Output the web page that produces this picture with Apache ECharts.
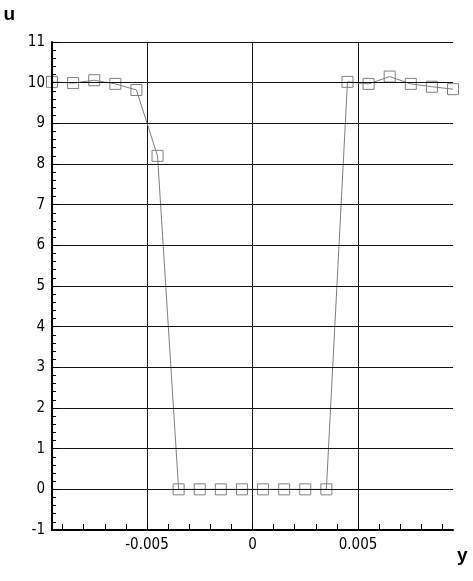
<!DOCTYPE html>
<html>
<head>
<meta charset="utf-8">
<script src="https://cdn.jsdelivr.net/npm/echarts@6/dist/echarts.min.js"></script>
<style>html,body{margin:0;padding:0;background:#fff;}#c{width:473px;height:581px;}</style>
</head>
<body>
<div id="c"></div>
<script>
var yPos = [-0.0095, -0.0085, -0.0075, -0.0065, -0.0055, -0.0045, -0.0035, -0.0025, -0.0015, -0.0005,
            0.0005, 0.0015, 0.0025, 0.0035, 0.0045, 0.0055, 0.0065, 0.0075, 0.0085, 0.0095];
var uVals = [10.02, 9.99, 10.06, 9.97, 9.82, 8.2, 0, 0, 0, 0,
             0, 0, 0, 0, 10.02, 9.97, 10.15, 9.97, 9.9, 9.84];
var xLabelValues = [-0.005, 0, 0.005];
var xMinorTicks = [-0.009, -0.008, -0.007, -0.006, -0.005, -0.004, -0.003, -0.002, -0.001, 0,
                   0.001, 0.002, 0.003, 0.004, 0.005, 0.006, 0.007, 0.008, 0.009];
var xGridValues = [-0.005, 0, 0.005];

var font = "'DejaVu Sans Condensed', 'Liberation Sans Narrow', 'Liberation Sans', Arial, sans-serif";
var chart = echarts.init(document.getElementById('c'));
var data = yPos.map(function (v, i) { return [v, uVals[i]]; });
chart.setOption({
  animation: false,
  backgroundColor: '#fff',
  grid: { left: 52, right: 20, top: 42, bottom: 51, containLabel: false },
  xAxis: [{
    type: 'value', min: -0.0095, max: 0.0095,
    name: 'y', nameLocation: 'end', nameGap: 4,
    nameTextStyle: { fontFamily: 'Liberation Sans, Arial', fontWeight: 'bold', fontSize: 19, color: '#000',
      align: 'left', verticalAlign: 'top', padding: [16, 0, 0, 0] },
    axisLine: { show: true, onZero: false, lineStyle: { color: '#000', width: 2 } },
    axisTick: { show: true, inside: true, length: 6, customValues: xMinorTicks, lineStyle: { color: '#000', width: 1 } },
    axisLabel: { customValues: xLabelValues, fontFamily: font, fontSize: 15, color: '#000', margin: 8,
      formatter: function (v) { return v === 0 ? '0' : String(v); } },
    splitLine: { show: false },
    z: 5
  }, {
    type: 'value', min: -0.0095, max: 0.0095, position: 'bottom',
    axisLine: { show: false, onZero: false },
    axisTick: { show: false, customValues: xGridValues },
    axisLabel: { show: false, customValues: xGridValues },
    splitLine: { show: true, lineStyle: { color: '#111', width: 1 } }
  }],
  yAxis: {
    type: 'value', min: -1, max: 11, interval: 1,
    name: 'u', nameLocation: 'end', nameGap: 18,
    nameTextStyle: { fontFamily: 'Liberation Sans, Arial', fontWeight: 'bold', fontSize: 19, color: '#000',
      align: 'right', padding: [0, 37, 0, 0] },
    axisLine: { show: true, onZero: false, lineStyle: { color: '#000', width: 2 } },
    axisTick: { show: true, inside: true, length: 7, lineStyle: { color: '#000', width: 1 } },
    minorTick: { show: true, splitNumber: 5, length: 4, lineStyle: { color: '#000', width: 1 } },
    axisLabel: { fontFamily: font, fontSize: 15, color: '#000', margin: 7 },
    splitLine: { show: true, lineStyle: { color: '#111', width: 1 } },
    z: 5
  },
  series: [{
    type: 'line', data: data, clip: false, xAxisIndex: 0,
    symbol: 'rect', symbolSize: 11, showAllSymbol: true,
    lineStyle: { color: '#808080', width: 1 },
    itemStyle: { color: 'rgba(255,255,255,0)', borderColor: '#808080', borderWidth: 1 },
    z: 3
  }]
});
</script>
</body>
</html>
